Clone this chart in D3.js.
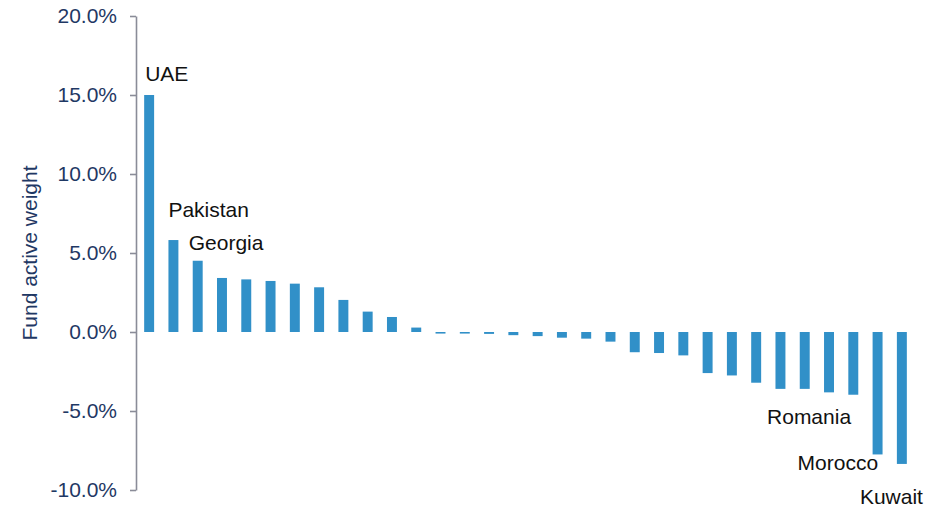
<!DOCTYPE html>
<html>
<head>
<meta charset="utf-8">
<script src="https://cdn.jsdelivr.net/npm/d3@7"></script>
<style>
  body { margin: 0; background: #fff; }
  text { font-family: "Liberation Sans", Arial, sans-serif; }
</style>
</head>
<body>
<div id="chart"></div>
<script>
// Fund active weight per country (%), sorted high to low
const countries = ["UAE", "Pakistan", "Georgia", "", "", "", "", "", "", "", "",
                   "", "", "", "", "", "", "", "", "", "", "",
                   "", "", "", "", "", "", "Romania", "", "Morocco", "Kuwait"];
const weights = [15.0, 5.82, 4.51, 3.42, 3.33, 3.23, 3.06, 2.83, 2.03, 1.29, 0.95,
                 0.28, -0.1, -0.1, -0.12, -0.2, -0.26, -0.36, -0.42, -0.61, -1.28, -1.33,
                 -1.48, -2.6, -2.75, -3.21, -3.6, -3.6, -3.82, -3.97, -7.75, -8.35];
const yTicks = [-10, -5, 0, 5, 10, 15, 20];

const width = 930, height = 508;
const navy = "#1f3864";
const barColor = "#3190c8";

const svg = d3.select("#chart")
              .append("svg")
              .attr("width", width)
              .attr("height", height);

const data = weights.map((v, i) => ({i: i, name: countries[i], value: v}));

// Scales
const xScale = d3.scaleBand()
                 .domain(data.map(d => d.i))
                 .range([137, 914])
                 .paddingInner(0.59)
                 .paddingOuter(0.295);
const yScale = d3.scaleLinear()
                 .domain([-10, 20])
                 .range([490, 16]);

// plain hyphen for negatives, like the original
const pct = d => d3.format(".1f")(d).replace("\u2212", "-") + "%";

// Y axis
const yAxis = svg.append("g")
                 .attr("transform", "translate(136,0)")
                 .call(d3.axisLeft(yScale)
                         .tickValues(yTicks)
                         .tickSize(6)
                         .tickPadding(13)
                         .tickSizeOuter(0)
                         .tickFormat(pct));
yAxis.select(".domain").attr("stroke", "#8a8c98").attr("stroke-width", 1.6);
yAxis.selectAll(".tick line").attr("stroke", "#8a8c98").attr("stroke-width", 1.6);
yAxis.selectAll(".tick text")
     .attr("fill", navy)
     .attr("font-size", 21)
     .attr("font-family", "Liberation Sans, Arial, sans-serif");

// Y axis title
svg.append("text")
   .attr("transform", `translate(37,${(yScale(20) + yScale(-10)) / 2}) rotate(-90)`)
   .attr("text-anchor", "middle")
   .attr("fill", navy)
   .attr("font-size", 21)
   .text("Fund active weight");

// Bars
svg.selectAll(".bar")
   .data(data)
   .join("rect")
   .attr("class", "bar")
   .attr("x", d => xScale(d.i))
   .attr("width", xScale.bandwidth())
   .attr("y", d => yScale(Math.max(0, d.value)))
   .attr("height", d => Math.abs(yScale(d.value) - yScale(0)))
   .attr("fill", barColor);

// Country labels, nudged off the bar ends
const labelNudge = {
  "UAE": [1, -14], "Pakistan": [0, -23], "Georgia": [-4, -11],
  "Romania": [-57, 32], "Morocco": [-75, 16], "Kuwait": [-37, 40]
};
svg.selectAll(".label")
   .data(data.filter(d => d.name !== ""))
   .join("text")
   .attr("class", "label")
   .attr("x", d => xScale(d.i) + labelNudge[d.name][0])
   .attr("y", d => yScale(d.value) + labelNudge[d.name][1])
   .attr("font-size", 21)
   .attr("fill", "#111")
   .text(d => d.name);
</script>
</body>
</html>
